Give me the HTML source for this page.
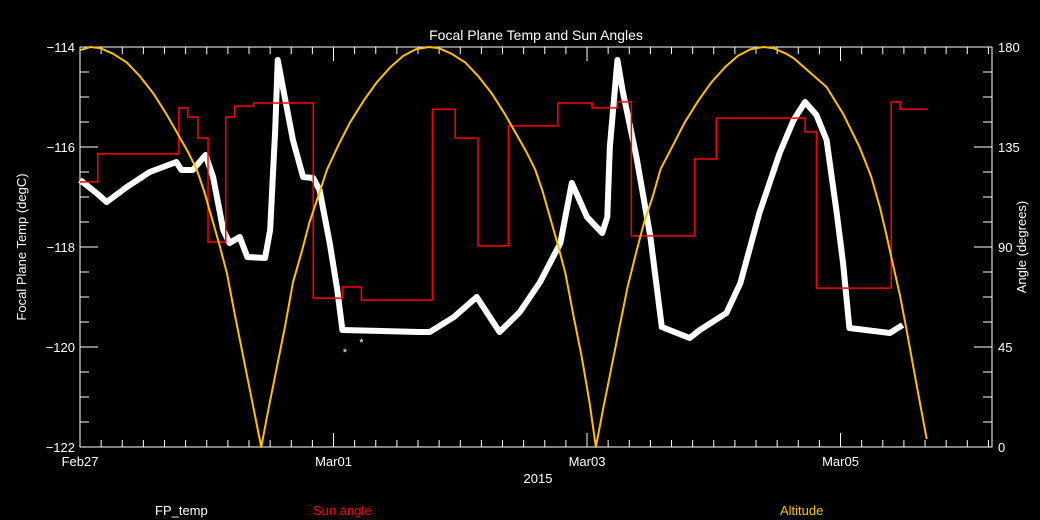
<!DOCTYPE html>
<html><head><meta charset="utf-8"><style>
html,body{margin:0;padding:0;background:#000;}
svg{display:block;font-family:"Liberation Sans",sans-serif;}
</style></head><body>
<svg id="chart" width="1040" height="520" viewBox="0 0 1040 520">
<rect x="0" y="0" width="1040" height="520" fill="#000"/>
<text x="536" y="40" fill="#fff" font-size="14" text-anchor="middle">Focal Plane Temp and Sun Angles</text>
<g id="axes"></g>
<g id="series"></g>
<text x="26" y="247" fill="#fff" font-size="13" text-anchor="middle" transform="rotate(-90 26 247)">Focal Plane Temp (degC)</text>
<text x="1026" y="247" fill="#fff" font-size="13" text-anchor="middle" transform="rotate(-90 1026 247)">Angle (degrees)</text>
<text x="538" y="483" fill="#fff" font-size="13" text-anchor="middle">2015</text>
<text x="155" y="515" fill="#fff" font-size="13">FP_temp</text>
<text x="313" y="515" fill="#ff0000" font-size="13">Sun angle</text>
<text x="780" y="515" fill="#ffc000" font-size="13">Altitude</text>
</svg>
<script>
// time in days since Feb27 00:00
const xTickLabels = ["Feb27","Mar01","Mar03","Mar05"];
const xTickDays = [0,2,4,6];
const leftTicks = [-114,-116,-118,-120,-122];
const rightTicks = [180,135,90,45,0];

const tempT = [0,0.13,0.21,0.37,0.55,0.76,0.80,0.89,0.99,1.05,1.13,1.18,1.26,1.32,1.46,1.50,1.54,1.56,1.60,1.68,1.76,1.84,1.89,1.97,2.03,2.07,2.68,2.76,2.95,3.13,3.31,3.47,3.63,3.79,3.88,4.00,4.12,4.16,4.18,4.24,4.28,4.39,4.50,4.59,4.81,4.89,5.10,5.21,5.36,5.52,5.63,5.72,5.81,5.89,5.97,6.02,6.07,6.39,6.49];
const tempV = [-116.66,-116.92,-117.1,-116.8,-116.5,-116.3,-116.46,-116.46,-116.16,-116.6,-117.66,-117.92,-117.8,-118.2,-118.22,-117.66,-115.66,-114.26,-114.8,-115.86,-116.6,-116.62,-116.86,-117.92,-118.86,-119.66,-119.7,-119.7,-119.4,-119.0,-119.7,-119.3,-118.7,-117.92,-116.72,-117.4,-117.72,-117.4,-116.0,-114.26,-114.86,-116.2,-117.8,-119.6,-119.82,-119.66,-119.32,-118.72,-117.32,-116.12,-115.46,-115.1,-115.36,-115.86,-117.32,-118.32,-119.62,-119.72,-119.56];
const outlierT = [2.09,2.22];
const outlierV = [-120.08,-119.88];

const sunStart = [0,0.14,0.78,0.85,0.93,1.01,1.15,1.22,1.37,1.84,2.07,2.22,2.78,2.96,3.14,3.38,3.77,4.04,4.24,4.35,4.85,5.02,5.72,5.81,6.40,6.47];
const sunVal = [119.3,131.9,152.6,148.5,139,92.2,148.5,153.4,154.8,67,72,66.1,152,139,90.5,144.5,154.8,152.6,155.3,95,129.6,148,141.8,71.5,155.3,152];
const sunEnd = 6.68;

const altT = [0.005,0.08,0.16,0.26,0.37,0.47,0.58,0.68,0.77,0.85,0.92,0.98,1.03,1.10,1.16,1.22,1.29,1.36,1.43,1.49,1.55,1.62,1.68,1.75,1.81,1.88,1.95,2.04,2.13,2.24,2.34,2.45,2.55,2.65,2.75,2.83,2.93,3.04,3.14,3.25,3.35,3.44,3.52,3.59,3.65,3.70,3.77,3.83,3.89,3.96,4.02,4.07,4.13,4.19,4.26,4.32,4.39,4.45,4.52,4.58,4.68,4.77,4.88,4.98,5.09,5.19,5.29,5.39,5.47,5.57,5.63,5.75,5.89,6.02,6.15,6.24,6.31,6.36,6.41,6.47,6.52,6.60,6.68];
const altV = [178.6,180,179.5,177,173,167,159,150,141,133,125,115,105,91,78,60,40,20,0,18,35,55,74,88,101,113,125,136,146,156,164,171,176,179,180,179.5,177,173,167,159,150,141,133,125,115,105,91,78,60,40,20,0,18,35,55,72,88,101,113,125,136,146,156,164,171,176,179,180,179.5,177,175,169,162,150,135,122,108,96,83,68,53,28,3.6];

const X0=80, X1=992, Y0=47, Y1=447, DAYS=7.195;
const xs = t => X0 + t*(X1-X0)/DAYS;
const yl = v => Y0 + (-114 - v)*(Y1-Y0)/8;
const yr = v => Y1 - v*(Y1-Y0)/180;
const NS="http://www.w3.org/2000/svg";
function mk(tag, attrs, parent){const e=document.createElementNS(NS,tag);for(const k in attrs)e.setAttribute(k,attrs[k]);parent.appendChild(e);return e;}
const axes=document.getElementById('axes'), series=document.getElementById('series');

const frame=mk('rect',{x:X0,y:Y0,width:X1-X0,height:Y1-Y0,fill:'none',stroke:'#fff','stroke-width':1},axes);


for(let i=0;i*(1/6)<=DAYS;i++){
  const x=xs(i/6), len = (i%12===0)?14:7;
  const a=mk('line',{x1:x,y1:Y1,x2:x,y2:Y1-len,stroke:'#fff'},axes);
  
  
  const b=mk('line',{x1:x,y1:Y0,x2:x,y2:Y0+len,stroke:'#fff'},axes);
  
  
}
xTickLabels.forEach((l,i)=>{
  const t=mk('text',{x:xs(xTickDays[i]),y:466,fill:'#fff','font-size':13,'text-anchor':'middle'},axes);
  t.textContent=l;
  
  
});
for(let v=-114;v>=-122;v-=0.5){
  const major=Math.abs(v%2)<1e-9, y=yl(v);
  const a=mk('line',{x1:X0,y1:y,x2:X0+(major?18:9),y2:y,stroke:'#fff'},axes);
  
  
}
leftTicks.forEach(v=>{
  const t=mk('text',{x:75,y:yl(v)+5,fill:'#fff','font-size':13,'text-anchor':'end'},axes);
  t.textContent='\u2212'+Math.abs(v);
  
  
});
for(let v=0;v<=180;v+=11.25){
  const major=Math.abs(v%45)<1e-9, y=yr(v);
  const a=mk('line',{x1:X1,y1:y,x2:X1-(major?18:9),y2:y,stroke:'#fff'},axes);
  
  
}
rightTicks.forEach(v=>{
  const t=mk('text',{x:998,y:yr(v)+5,fill:'#fff','font-size':13},axes);
  t.textContent=String(v);
  
  
});
const tp=mk('polyline',{points:tempT.map((t,i)=>xs(t)+','+yl(tempV[i])).join(' '),fill:'none',stroke:'#fff','stroke-width':6,'stroke-linejoin':'round'},series);


outlierT.forEach((t,i)=>{
  const s=mk('text',{x:xs(t),y:yl(outlierV[i])+5,fill:'#fff','font-size':11,'text-anchor':'middle'},series);
  s.textContent='*';
  
  
});
let pts=[];
sunStart.forEach((t,i)=>{const e=(i+1<sunStart.length)?sunStart[i+1]:sunEnd;pts.push(xs(t)+','+yr(sunVal[i]));pts.push(xs(e)+','+yr(sunVal[i]));});
const sp=mk('polyline',{points:pts.join(' '),fill:'none',stroke:'#ff0000','stroke-width':1.5},series);


const ap=mk('polyline',{points:altT.map((t,i)=>xs(t)+','+yr(altV[i])).join(' '),fill:'none',stroke:'#ffc000','stroke-width':2,'stroke-linejoin':'round'},series);


</script>
</body></html>
